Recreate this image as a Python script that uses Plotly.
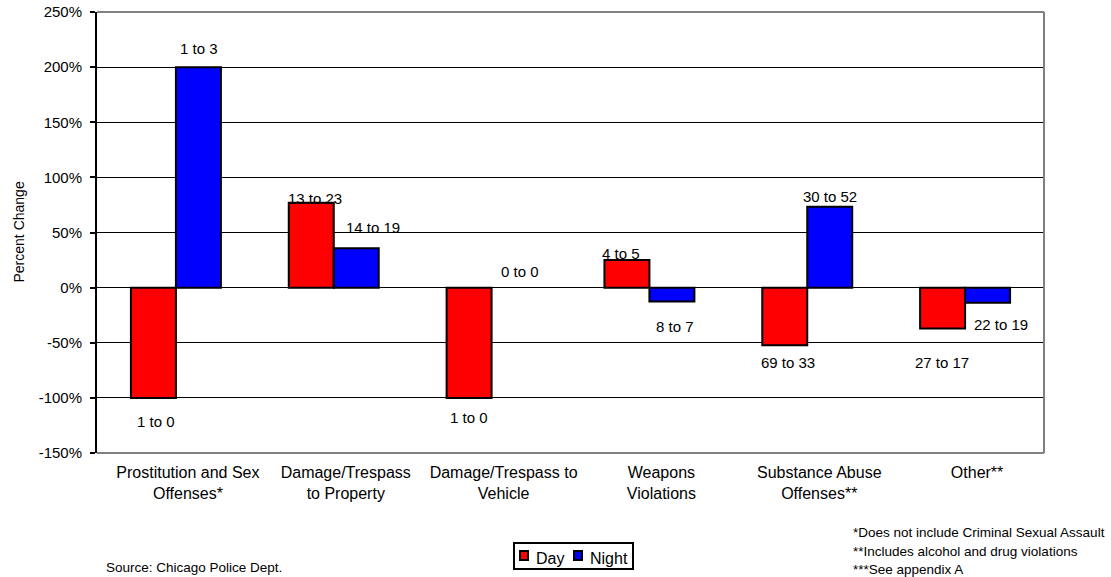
import plotly.graph_objects as go

# Offense categories (x axis)
categories = [
    "Prostitution and Sex<br>Offenses*",
    "Damage/Trespass<br>to Property",
    "Damage/Trespass to<br>Vehicle",
    "Weapons<br>Violations",
    "Substance Abuse<br>Offenses**",
    "Other**",
]

# Incident counts, before and after
day_before = [1, 13, 1, 4, 69, 27]
day_after = [0, 23, 0, 5, 33, 17]
night_before = [1, 14, 0, 8, 30, 22]
night_after = [3, 19, 0, 7, 52, 19]

y_ticks = [-150, -100, -50, 0, 50, 100, 150, 200, 250]
y_tick_text = [f"{v}%" for v in y_ticks]


def pct_change(before, after):
    return [0.0 if b == 0 else (a - b) / b * 100 for b, a in zip(before, after)]


day_pct = pct_change(day_before, day_after)
night_pct = pct_change(night_before, night_after)

# pixel nudges for the "x to y" labels (dx right, dy down)
day_label_shift = [(3, 24), (4, -4), (0, 20), (-6, -7), (3, 17), (-1, 34)]
night_label_shift = [(1, -19), (17, -21), (6, -16), (3, 25), (0, -10), (13, 22)]

FONT = "Liberation Sans, Arial, sans-serif"
DAY_COLOR = "#ff0000"
NIGHT_COLOR = "#0000ff"

# plot area in pixels, used to place items outside the axes
PLOT_L, PLOT_R, PLOT_T, PLOT_B = 97, 1044, 12, 453


def px_x(px):
    return (px - PLOT_L) / (PLOT_R - PLOT_L)


def px_y(py):
    return (PLOT_B - py) / (PLOT_B - PLOT_T)


def outline(values):
    # no outline on zero-height bars
    return [0 if v == 0 else 2 for v in values]


fig = go.Figure()
fig.add_trace(go.Bar(
    name="Day", x=categories, y=day_pct, showlegend=False,
    marker=dict(color=DAY_COLOR, line=dict(color="black", width=outline(day_pct))),
))
fig.add_trace(go.Bar(
    name="Night", x=categories, y=night_pct, showlegend=False,
    marker=dict(color=NIGHT_COLOR, line=dict(color="black", width=outline(night_pct))),
))

annotations = []
half_bar = 22.5
for i, cat in enumerate(categories):
    for pct, before, after, shift, side in (
        (day_pct[i], day_before[i], day_after[i], day_label_shift[i], -1),
        (night_pct[i], night_before[i], night_after[i], night_label_shift[i], 1),
    ):
        annotations.append(dict(
            x=cat, y=pct, xref="x", yref="y",
            text=f"{before} to {after}", showarrow=False,
            xshift=side * half_bar + shift[0], yshift=-shift[1],
            xanchor="center", yanchor="middle",
            font=dict(family=FONT, size=15, color="black"),
        ))

# axis title
annotations.append(dict(
    x=px_x(18), y=0.5, xref="paper", yref="paper", text="Percent Change",
    textangle=-90, showarrow=False, xanchor="center", yanchor="middle",
    font=dict(family=FONT, size=14, color="black"),
))
# source and footnotes
annotations.append(dict(
    x=px_x(104), y=px_y(567), xref="paper", yref="paper",
    text="Source: Chicago Police Dept.", showarrow=False,
    xanchor="left", yanchor="middle",
    font=dict(family=FONT, size=13.5, color="black"),
))
for py, txt in ((532, "*Does not include Criminal Sexual Assault"),
                (551, "**Includes alcohol and drug violations"),
                (569, "***See appendix A")):
    annotations.append(dict(
        x=px_x(851), y=px_y(py), xref="paper", yref="paper", text=txt,
        showarrow=False, xanchor="left", yanchor="middle",
        font=dict(family=FONT, size=13.5, color="black"),
    ))

# legend: boxed, small outlined swatches
legend_items = [("Day", DAY_COLOR, 520, 534), ("Night", NIGHT_COLOR, 574, 588)]
shapes = [
    dict(type="rect", xref="paper", yref="paper",
         x0=px_x(514), x1=px_x(633), y0=px_y(543), y1=px_y(569),
         line=dict(color="black", width=2), fillcolor="white"),
]
for name, color, sx, tx in legend_items:
    shapes.append(dict(
        type="rect", xref="paper", yref="paper",
        x0=px_x(sx), x1=px_x(sx + 8), y0=px_y(551), y1=px_y(560),
        line=dict(color="black", width=2), fillcolor=color,
    ))
    annotations.append(dict(
        x=px_x(tx), y=px_y(558), xref="paper", yref="paper", text=name,
        showarrow=False, xanchor="left", yanchor="middle",
        font=dict(family=FONT, size=16, color="black"),
    ))

# gray frame on top, right and bottom of the plot area
shapes += [
    dict(type="line", xref="paper", yref="paper", x0=0, x1=1, y0=1, y1=1,
         line=dict(color="#808080", width=2)),
    dict(type="line", xref="paper", yref="paper", x0=1, x1=1, y0=0, y1=1,
         line=dict(color="#808080", width=2)),
    dict(type="line", xref="paper", yref="paper", x0=0, x1=1, y0=0, y1=0,
         line=dict(color="#808080", width=2)),
]

fig.update_layout(
    width=1111, height=577,
    margin=dict(l=PLOT_L, r=1111 - PLOT_R, t=PLOT_T, b=577 - PLOT_B),
    paper_bgcolor="white", plot_bgcolor="white",
    barmode="group", bargap=0.43, bargroupgap=0,
    font=dict(family=FONT, color="black"),
    annotations=annotations, shapes=shapes,
    showlegend=False,
    xaxis=dict(
        type="category", range=[-0.5, 5.5], showgrid=False, showline=False,
        ticks="", automargin=False, ticklabelstandoff=8, ticklabelshift=12,
        tickfont=dict(family=FONT, size=16, color="black"),
    ),
    yaxis=dict(
        range=[-150, 250], tickvals=y_ticks, ticktext=y_tick_text,
        showgrid=True, gridcolor="black", gridwidth=1,
        zeroline=True, zerolinecolor="black", zerolinewidth=1,
        showline=True, linecolor="black", linewidth=2,
        ticks="outside", ticklen=5, tickcolor="black", tickwidth=2,
        ticklabelstandoff=5, automargin=False,
        tickfont=dict(family=FONT, size=15, color="black"),
    ),
)

fig.write_html("out.html")
